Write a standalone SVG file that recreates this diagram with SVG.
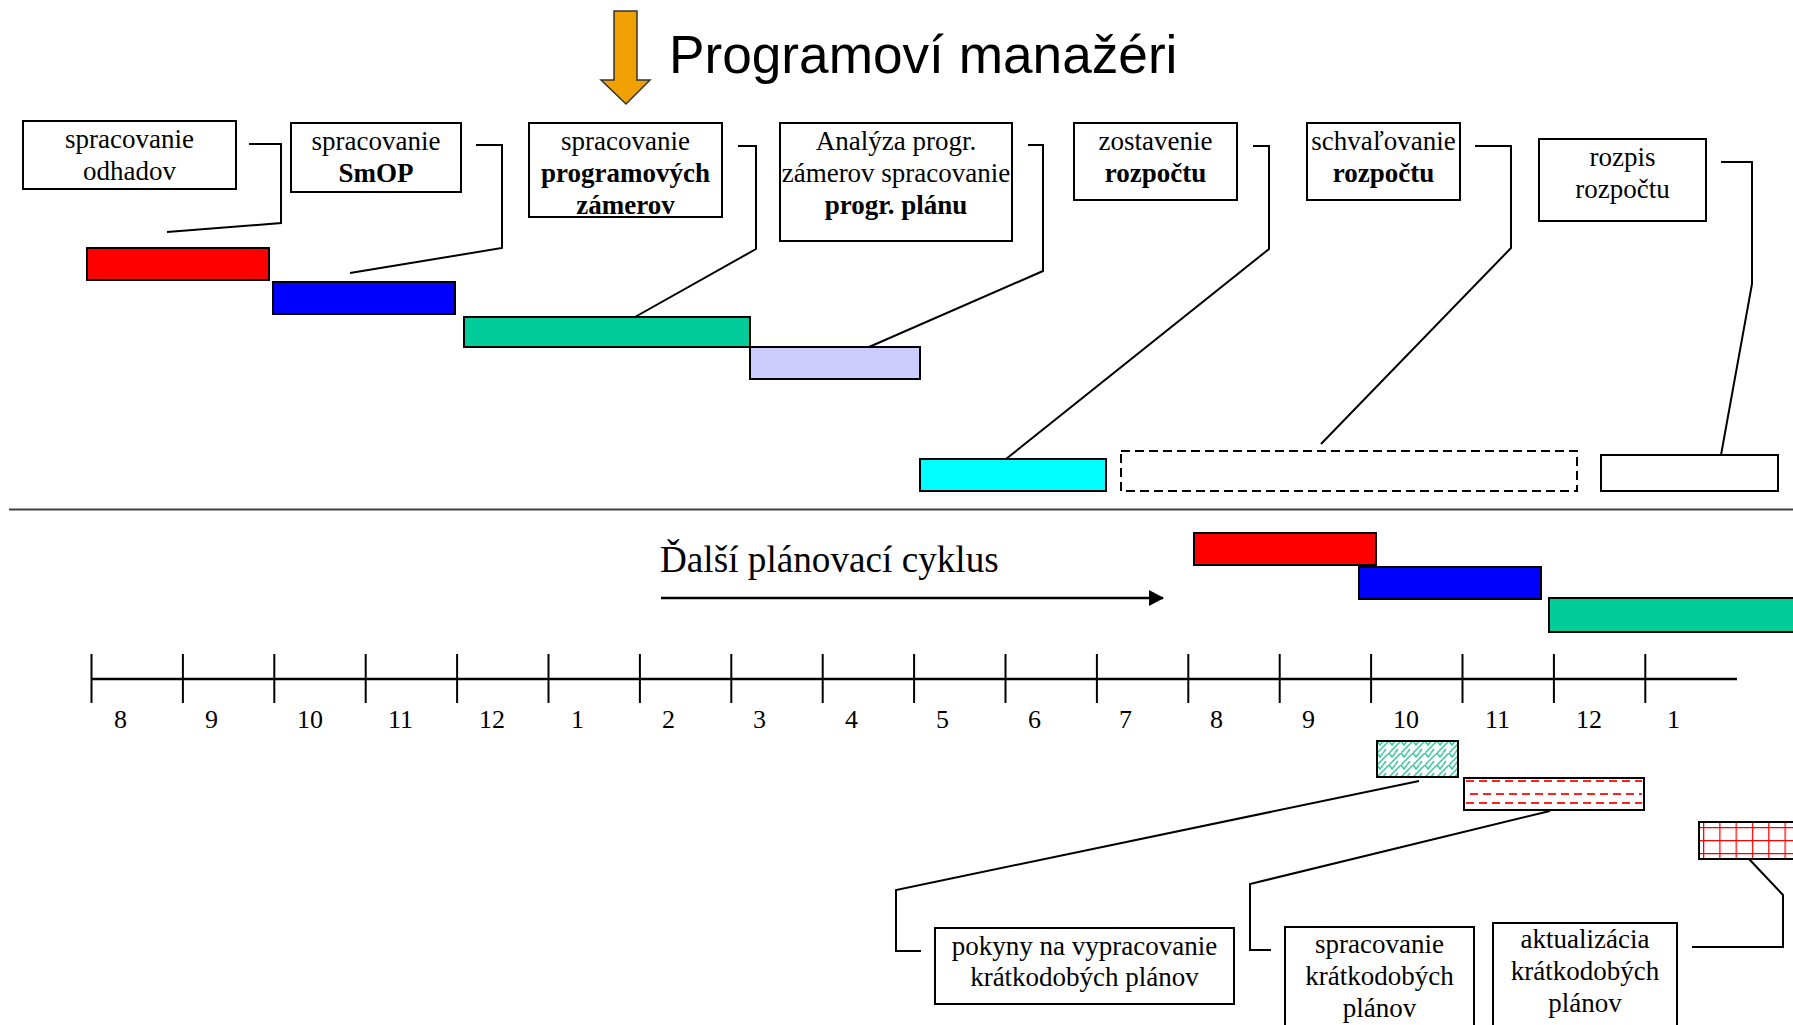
<svg xmlns="http://www.w3.org/2000/svg" width="1793" height="1025" viewBox="0 0 1793 1025">
<style>
.box{fill:#fff;stroke:#000;stroke-width:2}
.t{font-family:"Liberation Serif","Times New Roman",serif;font-size:27px;text-anchor:middle;fill:#000}
.b{font-weight:bold}
.bar{stroke:#000;stroke-width:2}
.conn{fill:none;stroke:#000;stroke-width:2}
.tick{stroke:#000;stroke-width:2}
.num{font-family:"Liberation Serif","Times New Roman",serif;font-size:26px;fill:#000}
.rd{stroke:#ff2020;stroke-width:2;stroke-dasharray:8,5}
</style>
<defs>
<marker id="ah" markerWidth="15" markerHeight="16" refX="14" refY="8" orient="auto" markerUnits="userSpaceOnUse" viewBox="0 0 15 16">
<path d="M0,0 L15,8 L0,16 z" fill="#000"/>
</marker>
<pattern id="zig" patternUnits="userSpaceOnUse" x="1377" y="741" width="12" height="12">
<path d="M0,12 L12,0 M0,0 L3,4 L6,0 M6,12 L9,8" fill="none" stroke="#33cc99" stroke-width="1.5"/>
</pattern>
<pattern id="grid" patternUnits="userSpaceOnUse" x="1703" y="827" width="16.3" height="13">
<path d="M0,0 V13 M0,0 H16.3" fill="none" stroke="#ff0000" stroke-width="2.5"/>
</pattern>
</defs>

<g id="title">
<polygon points="614,11 637,11 637,80 650,80 626,104 601,80 614,80" fill="#f0a000" stroke="#333" stroke-width="1.5"/>
<text x="669" y="73" font-family="'Liberation Sans',Arial,sans-serif" font-size="53.2">Programoví manažéri</text>
</g>

<g id="connectors">
<polyline class="conn" points="249,144 281,144 281,223 167,232"/>
<polyline class="conn" points="476,145 502,145 502,248 350,273"/>
<polyline class="conn" points="738,146 756,146 756,249 635,317"/>
<polyline class="conn" points="1028,145 1043,145 1043,271 869,347"/>
<polyline class="conn" points="1253,146 1269,146 1269,249 1006,459"/>
<polyline class="conn" points="1475,146 1511,146 1511,248 1321,444"/>
<polyline class="conn" points="1721,162 1752,162 1752,284 1721,455"/>
<line x1="9" y1="509.5" x2="1793" y2="509.5" stroke="#404040" stroke-width="2"/>
<line x1="661" y1="598" x2="1163" y2="598" stroke="#000" stroke-width="2.5" marker-end="url(#ah)"/>
<polyline class="conn" points="1419,781 896,890 896,951 921,951"/>
<polyline class="conn" points="1550,811 1250,884 1250,950 1271,950"/>
<polyline class="conn" points="1749,859 1783,895 1783,947 1692,947"/>
</g>

<g id="box-odhadov">
<rect class="box" x="23" y="121" width="213" height="68"/>
<text class="t" x="129.5" y="148">spracovanie</text>
<text class="t" x="129.5" y="180">odhadov</text>
</g>
<g id="box-smop">
<rect class="box" x="291" y="123" width="170" height="69"/>
<text class="t" x="376" y="150">spracovanie</text>
<text class="t b" x="376" y="182">SmOP</text>
</g>
<g id="box-zamery">
<rect class="box" x="529" y="123" width="193" height="94"/>
<text class="t" x="625.5" y="150">spracovanie</text>
<text class="t b" x="625.5" y="182">programových</text>
<text class="t b" x="625.5" y="214">zámerov</text>
</g>
<g id="box-analyza">
<rect class="box" x="780" y="123" width="232" height="118"/>
<text class="t" x="896" y="150">Analýza progr.</text>
<text class="t" x="896" y="182">zámerov spracovanie</text>
<text class="t b" x="896" y="214">progr. plánu</text>
</g>
<g id="box-zostavenie">
<rect class="box" x="1074" y="123" width="163" height="77"/>
<text class="t" x="1155.5" y="150">zostavenie</text>
<text class="t b" x="1155.5" y="182">rozpočtu</text>
</g>
<g id="box-schvalovanie">
<rect class="box" x="1307" y="123" width="153" height="77"/>
<text class="t" x="1383.5" y="150">schvaľovanie</text>
<text class="t b" x="1383.5" y="182">rozpočtu</text>
</g>
<g id="box-rozpis">
<rect class="box" x="1539" y="139" width="167" height="82"/>
<text class="t" x="1622.5" y="166">rozpis</text>
<text class="t" x="1622.5" y="198">rozpočtu</text>
</g>

<g id="bar-red"><rect class="bar" x="87" y="248" width="182" height="32" fill="#ff0000"/></g>
<g id="bar-blue"><rect class="bar" x="273" y="282" width="182" height="32" fill="#0000ff"/></g>
<g id="bar-green"><rect class="bar" x="464" y="317" width="286" height="30" fill="#00cc99"/></g>
<g id="bar-lavender"><rect class="bar" x="750" y="347" width="170" height="32" fill="#ccccff"/></g>
<g id="bar-cyan"><rect class="bar" x="920" y="459" width="186" height="32" fill="#00ffff"/></g>
<g id="bar-dashed"><rect x="1121" y="451" width="456" height="40" fill="none" stroke="#000" stroke-width="2" stroke-dasharray="9,5"/></g>
<g id="bar-white"><rect class="bar" x="1601" y="455" width="177" height="36" fill="#fff"/></g>

<g id="cycle-label">
<text x="660" y="572" font-family="'Liberation Serif','Times New Roman',serif" font-size="37.2">Ďalší plánovací cyklus</text>
</g>

<g id="bar2-red"><rect class="bar" x="1194" y="533" width="182" height="32" fill="#ff0000"/></g>
<g id="bar2-blue"><rect class="bar" x="1359" y="567" width="182" height="32" fill="#0000ff"/></g>
<g id="bar2-green"><rect class="bar" x="1549" y="598" width="260" height="34" fill="#00cc99"/></g>

<g id="timeline">
<line x1="91.5" y1="679" x2="1737" y2="679" stroke="#000" stroke-width="2.5"/>
<line class="tick" x1="91.5" y1="654" x2="91.5" y2="703"/>
<line class="tick" x1="182.9" y1="654" x2="182.9" y2="703"/>
<line class="tick" x1="274.3" y1="654" x2="274.3" y2="703"/>
<line class="tick" x1="365.7" y1="654" x2="365.7" y2="703"/>
<line class="tick" x1="457.1" y1="654" x2="457.1" y2="703"/>
<line class="tick" x1="548.5" y1="654" x2="548.5" y2="703"/>
<line class="tick" x1="639.9" y1="654" x2="639.9" y2="703"/>
<line class="tick" x1="731.3" y1="654" x2="731.3" y2="703"/>
<line class="tick" x1="822.7" y1="654" x2="822.7" y2="703"/>
<line class="tick" x1="914.1" y1="654" x2="914.1" y2="703"/>
<line class="tick" x1="1005.5" y1="654" x2="1005.5" y2="703"/>
<line class="tick" x1="1096.9" y1="654" x2="1096.9" y2="703"/>
<line class="tick" x1="1188.3" y1="654" x2="1188.3" y2="703"/>
<line class="tick" x1="1279.7" y1="654" x2="1279.7" y2="703"/>
<line class="tick" x1="1371.1" y1="654" x2="1371.1" y2="703"/>
<line class="tick" x1="1462.5" y1="654" x2="1462.5" y2="703"/>
<line class="tick" x1="1553.9" y1="654" x2="1553.9" y2="703"/>
<line class="tick" x1="1645.3" y1="654" x2="1645.3" y2="703"/>
<text class="num" x="114" y="728">8</text>
<text class="num" x="205" y="728">9</text>
<text class="num" x="297" y="728">10</text>
<text class="num" x="388" y="728">11</text>
<text class="num" x="479" y="728">12</text>
<text class="num" x="571" y="728">1</text>
<text class="num" x="662" y="728">2</text>
<text class="num" x="753" y="728">3</text>
<text class="num" x="845" y="728">4</text>
<text class="num" x="936" y="728">5</text>
<text class="num" x="1028" y="728">6</text>
<text class="num" x="1119" y="728">7</text>
<text class="num" x="1210" y="728">8</text>
<text class="num" x="1302" y="728">9</text>
<text class="num" x="1393" y="728">10</text>
<text class="num" x="1485" y="728">11</text>
<text class="num" x="1576" y="728">12</text>
<text class="num" x="1667" y="728">1</text>
</g>

<g id="bar-zigzag"><rect class="bar" x="1377" y="741" width="81" height="36" fill="url(#zig)"/></g>
<g id="bar-reddash">
<rect class="bar" x="1464" y="778" width="180" height="32" fill="#fff"/>
<line class="rd" x1="1466" y1="781" x2="1642" y2="781"/>
<line class="rd" x1="1470" y1="794" x2="1642" y2="794"/>
<line class="rd" x1="1466" y1="803" x2="1642" y2="803"/>
</g>
<g id="bar-redgrid"><rect class="bar" x="1699" y="822" width="110" height="37" fill="url(#grid)"/></g>

<g id="box-pokyny">
<rect class="box" x="935" y="928" width="299" height="76"/>
<text class="t" x="1084.5" y="955">pokyny na vypracovanie</text>
<text class="t" x="1084.5" y="986">krátkodobých plánov</text>
</g>
<g id="box-spracovanie-kp">
<rect class="box" x="1285" y="927" width="189" height="110"/>
<text class="t" x="1379.5" y="953">spracovanie</text>
<text class="t" x="1379.5" y="985">krátkodobých</text>
<text class="t" x="1379.5" y="1017">plánov</text>
</g>
<g id="box-aktualizacia">
<rect class="box" x="1493" y="923" width="184" height="115"/>
<text class="t" x="1585" y="948">aktualizácia</text>
<text class="t" x="1585" y="980">krátkodobých</text>
<text class="t" x="1585" y="1012">plánov</text>
</g>
</svg>
